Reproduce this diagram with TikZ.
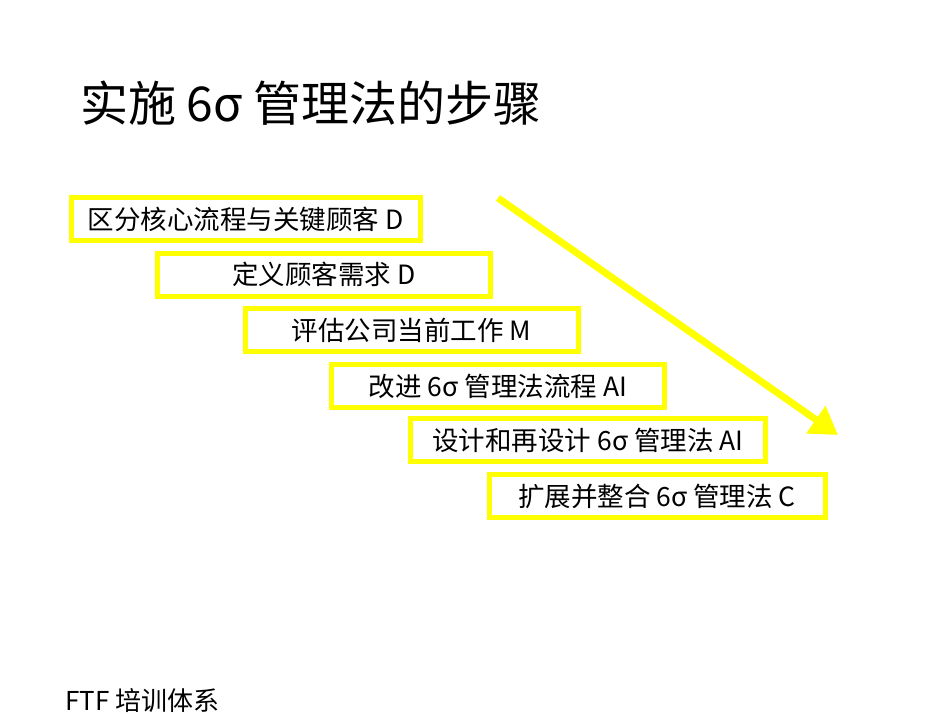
\documentclass[tikz,border=0pt]{standalone}
\usepackage{fontspec}
\setmainfont{Noto Sans CJK SC}
\usepackage{xcolor}
\usetikzlibrary{arrows.meta}

\definecolor{stepyellow}{RGB}{255,255,0}

\tikzset{
  stepbox/.style={draw=stepyellow, line width=5pt, minimum width=333pt, minimum height=43pt,
    inner sep=0pt, font=\fontsize{26.5pt}{30pt}\selectfont},
  flowarrow/.style={draw=stepyellow, line width=7pt, -{Triangle[length=27pt,width=32pt]}}
}

\begin{document}
\begin{tikzpicture}[x=1pt, y=-1pt]
    \useasboundingbox (0,0) rectangle (950,713);

    \node[anchor=base west, inner sep=0pt, font=\fontsize{48pt}{52pt}\selectfont] (title) at (80,121) {实施 6σ 管理法的步骤};

    \node[stepbox, minimum width=349pt] (s1) at (245.5,219) {区分核心流程与关键顾客 D};
    \node[stepbox] (s2) at (324,274.5) {定义顾客需求 D};
    \node[stepbox] (s3) at (411.5,330) {评估公司当前工作 M};
    \node[stepbox] (s4) at (498,386) {改进 6σ 管理法流程 AI};
    \node[stepbox, minimum width=355pt] (s5) at (588,440) {设计和再设计 6σ 管理法 AI};
    \node[stepbox, minimum width=336pt] (s6) at (657,496) {扩展并整合 6σ 管理法 C};

    \coordinate (astart) at (498,198);
    \coordinate (aend) at (838,435);
    \draw[flowarrow] (astart) -- (aend);

    \node[anchor=base west, inner sep=0pt, font=\fontsize{26pt}{28pt}\selectfont] (footer) at (65,710) {FTF 培训体系};
  \end{tikzpicture}
\end{document}
